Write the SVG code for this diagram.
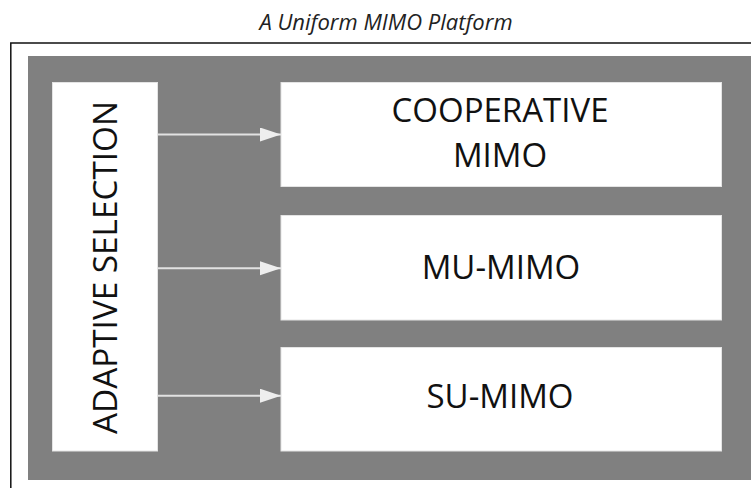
<svg xmlns="http://www.w3.org/2000/svg" width="751" height="488" viewBox="0 0 751 488">
<style>
.box{fill:#ffffff;stroke:#e4e4e4;stroke-width:1}
.lbl{font-family:"Open Sans","Liberation Sans",sans-serif;font-size:33px;fill:#111111;text-anchor:middle}
.conn{stroke:#e2e2e2;stroke-width:2;fill:none;marker-end:url(#ah)}
</style>
<defs>
<marker id="ah" markerUnits="userSpaceOnUse" markerWidth="22" markerHeight="16" refX="21" refY="7" orient="auto">
<path d="M0,0 L21,7 L0,14 Z" fill="#eeeeee"/>
</marker>
</defs>
<rect width="751" height="488" fill="#ffffff"/>
<text x="386" y="29.5" font-family="'Open Sans','Liberation Sans',sans-serif" font-size="22" font-style="italic" fill="#222222" text-anchor="middle">A Uniform MIMO Platform</text>
<rect x="10.8" y="43" width="760" height="470" fill="#ffffff" stroke="#111111" stroke-width="1.5"/>
<g id="platform">
<rect x="28" y="56" width="730" height="424" fill="#808080"/>
</g>
<g id="adaptive-selection">
<rect class="box" x="52.5" y="82.5" width="105" height="368.5"/>
<text class="lbl" transform="translate(116.5,267.5) rotate(-90)" x="0" y="0" font-size="34" textLength="333" lengthAdjust="spacingAndGlyphs">ADAPTIVE SELECTION</text>
</g>
<g id="cooperative-mimo">
<rect class="box" x="281" y="82.5" width="440.5" height="104"/>
<text class="lbl" x="500" y="122.3">COOPERATIVE</text>
<text class="lbl" x="500" y="167.3">MIMO</text>
</g>
<g id="mu-mimo">
<rect class="box" x="281" y="215.5" width="440.5" height="104.5"/>
<text class="lbl" x="501" y="279">MU-MIMO</text>
</g>
<g id="su-mimo">
<rect class="box" x="281" y="347.5" width="440.5" height="103.5"/>
<text class="lbl" x="500" y="408.3">SU-MIMO</text>
</g>
<g id="connectors">
<line class="conn" x1="158" y1="134.5" x2="281" y2="134.5"/>
<line class="conn" x1="158" y1="268.3" x2="281" y2="268.3"/>
<line class="conn" x1="158" y1="395.7" x2="281" y2="395.7"/>
</g>
</svg>
